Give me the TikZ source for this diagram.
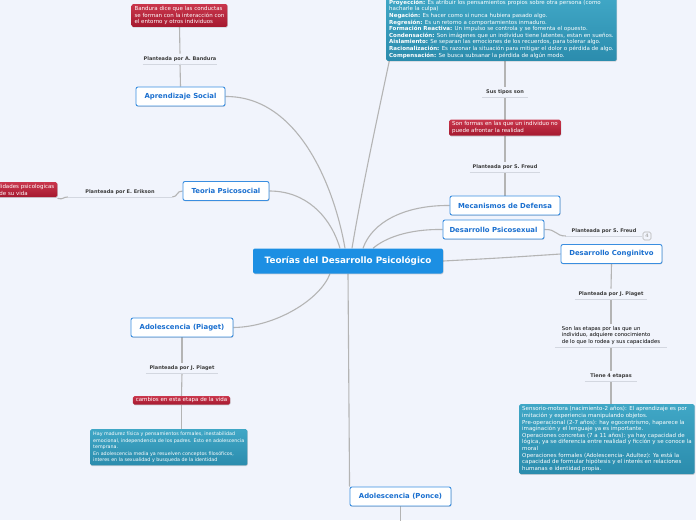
\documentclass[tikz,border=0pt]{standalone}
\usepackage{fontspec}
\setmainfont{DejaVu Sans}
\usetikzlibrary{shadows}
\definecolor{bgc}{HTML}{F1F4FC}
\definecolor{linec}{HTML}{B4B4B4}
\definecolor{ulc}{HTML}{D3D7E0}
\definecolor{rootblue}{HTML}{1C8FE3}
\definecolor{topicborder}{HTML}{3A8EE0}
\definecolor{topictext}{HTML}{1A6FCF}
\definecolor{redA}{HTML}{C9364C}
\definecolor{redB}{HTML}{A5192F}
\definecolor{tealA}{HTML}{40A7C6}
\definecolor{tealB}{HTML}{2B8CAD}
\definecolor{lbltext}{HTML}{3C3C3C}
\pgfdeclarelayer{bg}
\pgfsetlayers{bg,main}
\tikzset{
  conn/.style={draw=linec, line width=1.1pt},
  ul/.style={draw=ulc, line width=0.8pt},
  softshadow/.style={drop shadow={shadow xshift=0.5pt, shadow yshift=-0.8pt, opacity=0.25, fill=black!60}},
  topic/.style={draw=topicborder, line width=0.9pt, fill=white, rounded corners=2pt, text=topictext,
    font=\fontsize{6.9}{7.5}\selectfont\bfseries, minimum height=19, inner xsep=3, softshadow},
  rootbox/.style={fill=rootblue, rounded corners=2pt, text=white,
    font=\fontsize{8.8}{10}\selectfont\bfseries, minimum width=190, minimum height=25, softshadow},
  lbl/.style={font=\fontsize{5}{6}\selectfont\bfseries, text=lbltext, inner sep=0, minimum height=10},
  plaintxt/.style={font=\fontsize{5.3}{6.8}\selectfont, text=black, align=left, inner xsep=0, inner ysep=2},
  redbox/.style={top color=redA, bottom color=redB, rounded corners=1.5pt, text=white,
    font=\fontsize{5.5}{6.7}\selectfont, align=left, inner xsep=3, inner ysep=2, softshadow},
  tealbox/.style={top color=tealA, bottom color=tealB, rounded corners=1.5pt, text=white,
    font=\fontsize{5.5}{6.6}\selectfont, align=left, inner xsep=3, inner ysep=2.5, softshadow},
  badge/.style={draw=linec, rounded corners=1.5pt, text=linec, font=\fontsize{4.8}{5}\selectfont\bfseries,
    minimum width=8, minimum height=8, inner sep=0, line width=0.6pt}
}
\begin{document}
\begin{tikzpicture}[x=1pt,y=-1pt]
\useasboundingbox (0,0) rectangle (696,520);
\begin{pgfonlayer}{bg}
\fill[bgc] (0,0) rectangle (696,520);
\end{pgfonlayer}

% root and topics
\node[rootbox] (root) at (348,261) {Teorías del Desarrollo Psicológico};
\node[topic, minimum width=89] (ap) at (180.5,96.5) {Aprendizaje Social};
\node[topic, minimum width=86] (ps) at (226,191) {Teoria Psicosocial};
\node[topic, minimum width=110] (mec) at (505,205.5) {Mecanismos de Defensa};
\node[topic, minimum width=101] (psx) at (493.5,229.5) {Desarrollo Psicosexual};
\node[topic, minimum width=101] (cog) at (611.5,254) {Desarrollo Conginitvo};
\node[topic, minimum width=102] (adp) at (182,327.5) {Adolescencia (Piaget)};
\node[topic, minimum width=101] (apo) at (400.5,496.5) {Adolescencia (Ponce)};

% labels
\node[lbl, minimum width=74, anchor=south] (lb1) at (180,64) {Planteada por A. Bandura};
\node[lbl, minimum width=104, anchor=south] (lb2) at (120,197) {Planteada por E. Erikson};
\node[lbl, minimum width=46, anchor=south] (lb3) at (505,97) {Sus tipos son};
\node[lbl, minimum width=70, anchor=south] (lb4) at (505,172) {Planteada por S. Freud};
\node[lbl, minimum width=76, anchor=south] (lb5) at (604,236) {Planteada por S. Freud};
\node[lbl, minimum width=72, anchor=south] (lb6) at (611,299) {Planteada por J. Piaget};
\node[plaintxt, minimum width=112, anchor=south] (lb7) at (611,347) {Son las etapas por las que un\\individuo, adquiere conocimiento\\de lo que lo rodea y sus capacidades};
\node[lbl, minimum width=52, anchor=south] (lb8) at (611,381) {Tiene 4 etapas};
\node[lbl, minimum width=72, anchor=south] (lb9) at (182,373) {Planteada por J. Piaget};
\node[badge] (bd) at (647,236) {4};

% red boxes
\node[redbox, anchor=north] (rb1) at (179.5,4) {Bandura dice que las conductas\\se forman con la interacción con\\el entorno y otros individuos};
\node[redbox, anchor=north east] (rb2) at (57.5,182) {lidades psicologicas\\de su vida};
\node[redbox, anchor=north] (rb3) at (505,119.5) {Son formas en las que un individuo no\\puede afrontar la realidad};
\node[redbox, anchor=north, inner ysep=1.5] (rb4) at (181.5,396) {cambios en esta etapa de la vida};

% teal boxes
\node[tealbox, anchor=south west] (tb1) at (386,61) {\textbf{Proyección:} Es atribuir los pensamientos propios sobre otra persona (como\\
hacharle la culpa)\\
\textbf{Negación:} Es hacer como si nunca hubiera pasado algo.\\
\textbf{Regresión:} Es un retorno a comportamientos inmaduro.\\
\textbf{Formación Reactiva:} Un impulso se controla y se fomenta el opuesto.\\
\textbf{Condensación:} Son imágenes que un individuo tiene latentes, estan en sueños.\\
\textbf{Aislamiento:} Se separan las emociones de los recuerdos, para tolerar algo.\\
\textbf{Racionalización:} Es razonar la situación para mitigar el dolor o pérdida de algo.\\
\textbf{Compensación:} Se busca subsanar la pérdida de algún modo.};
\node[tealbox, anchor=north west] (tb2) at (519,404) {Sensorio-motora (nacimiento-2 años): El aprendizaje es por\\
imitación y experiencia manipulando objetos.\\
Pre-operacional (2-7 años): hay egocentrismo, haparece la\\
imaginación y el lenguaje ya es importante.\\
Operaciones concretas (7 a 11 años): ya hay capacidad de\\
lógica, ya se diferencia entre realidad y ficción y se conoce la\\
moral\\
Operaciones formales (Adolescencia- Adultez): Ya está la\\
capacidad de formular hipótesis y el interés en relaciones\\
humanas e identidad propia.};
\node[tealbox, anchor=north west, font=\fontsize{4.8}{6.6}\selectfont] (tb3) at (90,429) {Hay madurez física y pensamientos formales, inestabilidad\\
emocional, independencia de los padres. Esto en adolescencia\\
temprana.\\
En adolescencia media ya resuelven conceptos filosóficos,\\
interes en la sexualidad y busqueda de la identidad};

\coordinate (topend) at (404,-10);
\coordinate (botend) at (400.5,525);

\begin{pgfonlayer}{bg}
% root connectors
\draw[conn] (ap.east) .. controls (300,96) and (335,190) .. ([xshift=-3]root.north);
\draw[conn] (ps.east) .. controls (305,191) and (330,215) .. ([xshift=-8]root.north);
\draw[conn] ([xshift=4]root.north) .. controls (365,170) and (388,70) .. (topend);
\draw[conn] (mec.west) .. controls (405,205) and (372,222) .. ([xshift=15]root.north);
\draw[conn] (psx.west) .. controls (408,229) and (385,238) .. ([xshift=25]root.north);
\draw[conn] (root.east) .. controls (500,258) .. (cog.west);
\draw[conn] ([xshift=-18]root.south) .. controls (320,300) and (275,327) .. (adp.east);
\draw[conn] (root.south) -- (apo.north west);
% branches
\draw[conn] (ap.north) -- (lb1.south);
\draw[conn] (lb1.north) -- (rb1.south);
\draw[conn] (ps.west) .. controls (176,191) and (178,197) .. (lb2.south east);
\draw[conn] (lb2.south west) .. controls (62,197) and (64,200) .. ([yshift=-1]rb2.south east);
\draw[conn] (mec.north) -- (lb4.south);
\draw[conn] (lb4.north) -- (rb3.south);
\draw[conn] (rb3.north) -- (lb3.south);
\draw[conn] (lb3.north) -- (lb3.north |- tb1.south);
\draw[conn] (psx.east) .. controls (557,229) and (555,236) .. (lb5.south west);
\draw[conn] (cog.south) -- (lb6.north);
\draw[conn] (lb6.south) -- (lb7.north);
\draw[conn] (lb7.south) -- (lb8.north);
\draw[conn] (lb8.south) -- (lb8.south |- tb2.north);
\draw[conn] (adp.south) -- (lb9.north);
\draw[conn] (lb9.south) -- (rb4.north);
\draw[conn] (rb4.south) -- (rb4.south |- tb3.north);
\draw[conn] (apo.south) -- (botend);
% underlines
\foreach \n in {lb1,lb2,lb3,lb4,lb5,lb6,lb7,lb8,lb9}
  \draw[ul] (\n.south west) -- (\n.south east);
\end{pgfonlayer}
\end{tikzpicture}
\end{document}
